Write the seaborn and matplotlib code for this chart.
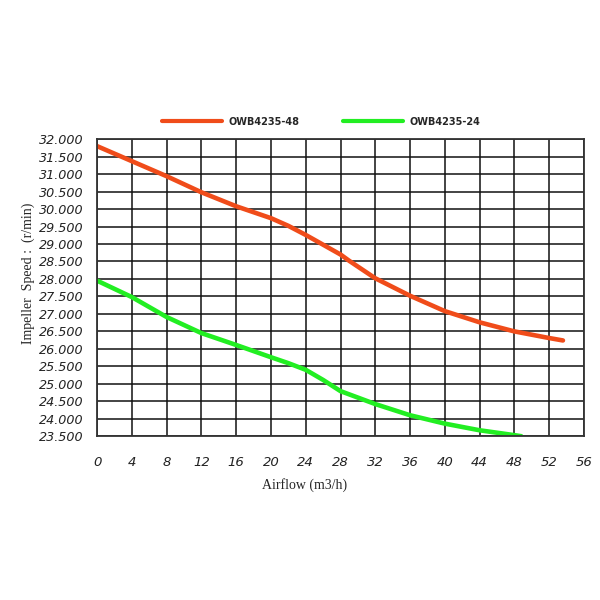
import numpy as np
import pandas as pd
import matplotlib
matplotlib.use("Agg")
import matplotlib.pyplot as plt
import seaborn as sns
from matplotlib.lines import Line2D

# values
airflow_48 = [0, 4, 8, 12, 16, 20, 22, 24, 28, 29, 32, 36, 40, 44, 48, 52, 53.6]
speed_48 = [31800, 31370, 30940, 30480, 30080, 29740, 29520, 29260, 28700, 28520,
            28020, 27520, 27080, 26760, 26500, 26310, 26240]

airflow_24 = [0, 4, 8, 12, 16, 20, 22, 24, 26, 28, 32, 36, 40, 44, 48, 48.8]
speed_24 = [27950, 27480, 26910, 26450, 26110, 25760, 25590, 25400, 25110, 24790,
            24420, 24100, 23860, 23670, 23530, 23500]

x_ticks = list(range(0, 57, 4))
y_ticks = list(range(23500, 32001, 500))

df = pd.concat([
    pd.DataFrame({"Airflow": airflow_48, "Speed": speed_48, "Model": "OWB4235-48"}),
    pd.DataFrame({"Airflow": airflow_24, "Speed": speed_24, "Model": "OWB4235-24"}),
])

sns.set_style("white")
plt.rcParams['font.family'] = ['DejaVu Sans']

fig = plt.figure(figsize=(6, 6), dpi=100)
ax = fig.add_axes([0.162, 0.273, 0.811, 0.495])

sns.lineplot(data=df, x="Airflow", y="Speed", hue="Model", sort=False,
             palette={"OWB4235-48": "#f04c1a", "OWB4235-24": "#22ee22"},
             linewidth=3.3, ax=ax, legend=False)

ax.set_xlim(0, 56)
ax.set_ylim(23500, 32000)
ax.set_xticks(x_ticks)
ax.set_yticks(y_ticks)
ax.set_xticklabels([str(v) for v in x_ticks], fontstyle='italic', fontsize=9.5)
ax.set_yticklabels([f"{v // 1000}.{v % 1000:03d}" for v in y_ticks],
                   fontstyle='italic', fontsize=9.2)
ax.tick_params(axis='both', length=0, colors='#222222')
ax.tick_params(axis='x', pad=14)
ax.tick_params(axis='y', pad=10)
ax.grid(True, color='#111111', linewidth=1.1)
for s in ax.spines.values():
    s.set_color('#333333')
    s.set_linewidth(1.3)

ax.set_xlabel("Airflow (m3/h)", fontsize=10, family='Liberation Serif')
ax.set_ylabel("Impeller  Speed :  (r/min)", fontsize=10, family='Liberation Serif')
ax.xaxis.set_label_coords(0.427, -0.14)
ax.yaxis.set_label_coords(-0.127, 0.55)

handles = [Line2D([], [], color="#f04c1a", linewidth=3),
           Line2D([], [], color="#22ee22", linewidth=3)]
fig.legend(handles, ["OWB4235-48", "OWB4235-24"], loc='center',
           bbox_to_anchor=(0.535, 0.797), ncol=2, frameon=False,
           prop={'size': 7, 'weight': 'bold'}, handlelength=6.2,
           handletextpad=0.6, columnspacing=4.5)

fig.savefig("out.png", dpi=100, facecolor='white')
